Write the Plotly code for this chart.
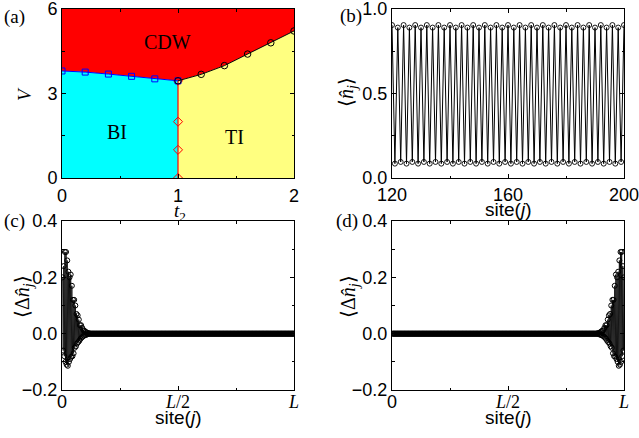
import plotly.graph_objects as go

# ---------------- data ----------------
# (a) phase diagram boundaries
bi_t2 = [0.0, 0.2, 0.4, 0.6, 0.8, 1.0]
bi_V = [3.80, 3.76, 3.69, 3.61, 3.52, 3.45]
ti_t2 = [1.0, 1.2, 1.4, 1.6, 1.8, 2.0]
ti_V = [3.45, 3.68, 3.99, 4.40, 4.80, 5.22]
tr_t2 = [1.0, 1.0, 1.0, 1.0]
tr_V = [0.0, 1.0, 2.0, 3.45]
region_labels = ["CDW", "BI", "TI"]
region_t2 = [0.91, 0.47, 1.49]
region_V = [4.82, 1.62, 1.45]

# (b) density profile, sites 120..200
b_sites = list(range(120, 201))
b_n = [0.905, 0.085, 0.89, 0.095, 0.905, 0.085, 0.89, 0.095,
       0.905, 0.085, 0.89, 0.095, 0.905, 0.085, 0.89, 0.095,
       0.905, 0.085, 0.89, 0.095, 0.905, 0.085, 0.89, 0.095,
       0.905, 0.085, 0.89, 0.095, 0.905, 0.085, 0.89, 0.095,
       0.905, 0.085, 0.89, 0.095, 0.905, 0.085, 0.89, 0.095,
       0.905, 0.085, 0.89, 0.095, 0.905, 0.085, 0.89, 0.095,
       0.905, 0.085, 0.89, 0.095, 0.905, 0.085, 0.89, 0.095,
       0.905, 0.085, 0.89, 0.095, 0.905, 0.085, 0.89, 0.095,
       0.905, 0.085, 0.89, 0.095, 0.905, 0.085, 0.89, 0.095,
       0.905, 0.085, 0.89, 0.095, 0.905, 0.085, 0.89, 0.095,
       0.905]

# (c)/(d) edge density deviation, chain of L sites
L = 400
edge_dn = [0.20, -0.06, 0.24, -0.08, 0.29, -0.10, 0.29, -0.11,
           0.26, -0.114, 0.22, -0.10, 0.20, -0.09, 0.21, -0.082,
           0.17, -0.08, 0.12, -0.07, 0.12, -0.05, 0.10, -0.045,
           0.07, -0.035, 0.065, -0.03, 0.05, -0.025, 0.03, -0.018,
           0.03, -0.014, 0.02, -0.01, 0.012, -0.007, 0.01, -0.005,
           0.006, -0.004, 0.004, -0.002, 0.002, -0.001, 0.001, 0.0]
bulk_dn = [0.0] * (L - len(edge_dn))
c_sites = list(range(1, L + 1))
c_dn = edge_dn + bulk_dn
d_dn = c_dn[::-1]

SANS = "Liberation Sans, Arial, sans-serif"
SERIF = "Liberation Serif, Times New Roman, serif"

x_ticks_cd = [0, L / 2, L]
x_ticktext_cd = ["0",
                 "<span style='font-family:Liberation Serif'><i>L</i>/2</span>",
                 "<span style='font-family:Liberation Serif'><i>L</i></span>"]

# ---------------- figure ----------------
W, H = 639, 438

fig = go.Figure()

# (a) filled regions
cdw_x = bi_t2 + ti_t2[1:] + [2.0, 0.0]
cdw_y = bi_V + ti_V[1:] + [6.0, 6.0]
bi_x = [0.0] + bi_t2 + [1.0]
bi_y = [0.0] + bi_V + [0.0]
ti_x = ti_t2 + [2.0, 1.0]
ti_y = ti_V + [0.0, 0.0]
for px, py, col in [(cdw_x, cdw_y, "#FF0000"), (bi_x, bi_y, "#00FFFF"), (ti_x, ti_y, "#FFFF80")]:
    fig.add_trace(go.Scatter(x=px, y=py, fill="toself", fillcolor=col, mode="lines",
                             line=dict(width=0, color=col), hoverinfo="skip",
                             showlegend=False, xaxis="x", yaxis="y"))

fig.add_trace(go.Scatter(x=tr_t2, y=tr_V, mode="lines+markers",
                         line=dict(color="red", width=1.2),
                         marker=dict(symbol="diamond-open", size=7, color="red", line=dict(width=1)),
                         showlegend=False, xaxis="x", yaxis="y"))
fig.add_trace(go.Scatter(x=bi_t2, y=bi_V, mode="lines+markers",
                         line=dict(color="blue", width=1),
                         marker=dict(symbol="square-open", size=6, color="blue", line=dict(width=1)),
                         showlegend=False, xaxis="x", yaxis="y"))
fig.add_trace(go.Scatter(x=ti_t2, y=ti_V, mode="lines+markers",
                         line=dict(color="black", width=1),
                         marker=dict(symbol="circle-open", size=6.5, color="black", line=dict(width=1)),
                         showlegend=False, xaxis="x", yaxis="y"))

# (b)
fig.add_trace(go.Scatter(x=b_sites, y=b_n, mode="lines+markers",
                         line=dict(color="black", width=1),
                         marker=dict(symbol="circle-open", size=5, color="black", line=dict(width=0.9)),
                         showlegend=False, xaxis="x2", yaxis="y2"))
# (c)
fig.add_trace(go.Scatter(x=c_sites, y=c_dn, mode="lines+markers",
                         line=dict(color="black", width=0.8),
                         marker=dict(symbol="circle-open", size=5, color="black", line=dict(width=1)),
                         showlegend=False, xaxis="x3", yaxis="y3"))
# (d)
fig.add_trace(go.Scatter(x=c_sites, y=d_dn, mode="lines+markers",
                         line=dict(color="black", width=0.8),
                         marker=dict(symbol="circle-open", size=5, color="black", line=dict(width=1)),
                         showlegend=False, xaxis="x4", yaxis="y4"))

# domains (paper coords)
xl = [62 / W, 294 / W]
xr = [392 / W, 624 / W]
yt = [1 - 178 / H, 1 - 9 / H]
yb = [1 - 390 / H, 1 - 221 / H]

def ax(domain, rng, tickvals, minor_dtick, anchor, ticktext=None, fmt=None, standoff=0):
    d = dict(domain=domain, range=rng, tickvals=tickvals, anchor=anchor,
             automargin=False, ticklabeloverflow="allow", ticklabelstandoff=standoff,
             showline=True, linecolor="black", linewidth=1, mirror="ticks",
             ticks="inside", ticklen=4, tickcolor="black", tickwidth=1,
             showgrid=False, zeroline=False,
             tickfont=dict(family=SANS, size=18, color="black"),
             minor=dict(ticks="inside", ticklen=2.5, dtick=minor_dtick, tick0=0,
                        tickcolor="black", showgrid=False))
    if ticktext is not None:
        d["ticktext"] = ticktext
    if fmt is not None:
        d["tickformat"] = fmt
    return d

fig.update_layout(
    width=W, height=H,
    margin=dict(l=0, r=0, t=0, b=0, autoexpand=False),
    paper_bgcolor="white", plot_bgcolor="white",
    xaxis=ax(xl, [0, 2], [0, 1, 2], 0.5, "y", standoff=1),
    yaxis=ax(yt, [0, 6], [0, 3, 6], 1.5, "x"),
    xaxis2=ax(xr, [120, 200], [120, 160, 200], 20, "y2"),
    yaxis2=ax(yt, [0, 1.0], [0, 0.5, 1.0], 0.25, "x2", fmt=".1f"),
    xaxis3=ax(xl, [0, L], x_ticks_cd, L / 4, "y3", ticktext=x_ticktext_cd, standoff=-5),
    yaxis3=ax(yb, [-0.2, 0.4], [-0.2, 0, 0.2, 0.4], 0.1, "x3", fmt=".1f"),
    xaxis4=ax(xr, [0, L], x_ticks_cd, L / 4, "y4", ticktext=x_ticktext_cd, standoff=-5),
    yaxis4=ax(yb, [-0.2, 0.4], [-0.2, 0, 0.2, 0.4], 0.1, "x4", fmt=".1f"),
)

ann = []
def txt(x, y, s, size=19, family=SERIF, angle=0, xanchor="center", yanchor="middle"):
    ann.append(dict(x=x / W, y=1 - y / H, xref="paper", yref="paper", text=s, showarrow=False,
                    font=dict(family=family, size=size, color="black"),
                    textangle=angle, xanchor=xanchor, yanchor=yanchor))

# panel labels
txt(2, 17, "(a)", xanchor="left")
txt(338, 16, "(b)", xanchor="left")
txt(2, 221, "(c)", xanchor="left")
txt(334, 221, "(d)", xanchor="left")
# axis titles
txt(180, 212, "<i>t</i><sub>2</sub>")
txt(24, 94, "<i>V</i>", angle=-90)
txt(508, 209, "site(<i>j</i>)", family=SANS, size=19)
txt(347, 92, "⟨<i>n̂</i><sub><i>j</i></sub>⟩", size=20, angle=-90)
txt(178, 417, "site(<i>j</i>)", family=SANS, size=19)
txt(508, 417, "site(<i>j</i>)", family=SANS, size=19)
txt(23, 297, "⟨Δ<i>n̂</i><sub><i>j</i></sub>⟩", size=20, angle=-90)
txt(349, 297, "⟨Δ<i>n̂</i><sub><i>j</i></sub>⟩", size=20, angle=-90)
fig.update_layout(annotations=ann)
# region labels (data coordinates)
for lab, tx, vy in zip(region_labels, region_t2, region_V):
    fig.add_annotation(x=tx, y=vy, xref="x", yref="y", text=lab, showarrow=False,
                       font=dict(family=SERIF, size=20, color="black"))

fig.write_html("out.html")
